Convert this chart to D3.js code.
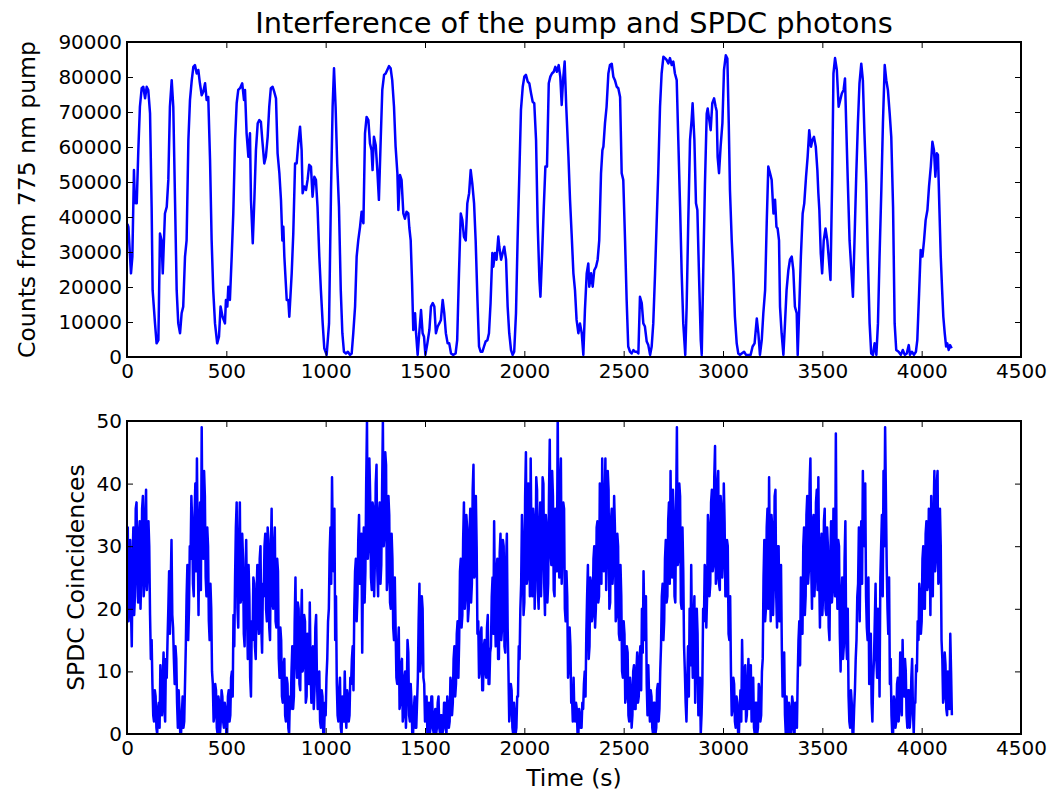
<!DOCTYPE html>
<html>
<head>
<meta charset="utf-8">
<script src="https://cdn.jsdelivr.net/npm/d3@7"></script>
<style>
  body { margin: 0; background: #fff; }
  text { font-family: "DejaVu Sans", sans-serif; }
</style>
</head>
<body>
<script>
//Pump counts (top panel): time in seconds and counts
var pumpTimes = [2,7,20,27,35,40,49,57,65,74,82,91,99,107,116,124,129,141,149,158,166,174,180,191,200,208,216,225,233,242,250,258,267,275,283,292,300,309,317,326,334,342,351,359,367,376,384,393,401,409,418,426,434,443,454,463,471,481,493,498,505,510,518,527,535,544,552,560,569,580,589,594,602,611,619,624,633,641,649,658,666,674,681,691,699,708,716,724,733,741,750,758,767,775,782,787,792,804,812,817,829,837,846,854,862,871,879,884,892,901,909,917,926,934,943,951,959,968,976,985,993,1005,1017,1027,1035,1042,1050,1058,1067,1076,1084,1092,1102,1112,1122,1131,1139,1148,1156,1164,1173,1181,1190,1198,1206,1215,1223,1231,1236,1243,1252,1260,1268,1277,1285,1294,1302,1310,1319,1327,1335,1344,1352,1361,1366,1374,1382,1391,1399,1407,1416,1421,1428,1435,1441,1450,1455,1463,1471,1480,1488,1495,1502,1512,1522,1530,1539,1547,1555,1564,1572,1580,1589,1597,1605,1614,1622,1631,1642,1654,1662,1671,1680,1688,1696,1705,1713,1722,1730,1738,1747,1755,1764,1772,1780,1789,1797,1805,1814,1822,1830,1839,1844,1852,1860,1869,1874,1883,1891,1899,1908,1916,1924,1933,1941,1949,1958,1966,1975,1983,1992,2000,2008,2017,2025,2034,2042,2050,2059,2067,2076,2081,2089,2098,2106,2114,2123,2131,2139,2148,2156,2164,2173,2181,2188,2195,2203,2211,2222,2230,2238,2247,2255,2263,2272,2280,2289,2297,2305,2314,2322,2327,2336,2344,2352,2361,2369,2377,2386,2393,2398,2406,2414,2423,2431,2440,2448,2456,2465,2473,2482,2490,2498,2507,2515,2523,2532,2540,2549,2557,2566,2574,2582,2591,2599,2607,2616,2624,2633,2641,2649,2658,2666,2674,2683,2691,2700,2708,2716,2725,2733,2742,2750,2758,2767,2775,2784,2792,2800,2810,2817,2825,2834,2842,2847,2856,2864,2871,2879,2888,2893,2901,2909,2918,2923,2931,2938,2946,2955,2963,2968,2973,2980,2988,2997,3005,3014,3022,3029,3035,3044,3052,3060,3069,3077,3086,3094,3106,3116,3128,3139,3149,3159,3170,3178,3186,3195,3203,3212,3220,3228,3237,3245,3254,3262,3269,3275,3282,3287,3295,3304,3312,3320,3329,3337,3346,3354,3362,3371,3376,3384,3392,3401,3409,3418,3426,3434,3443,3450,3458,3467,3475,3480,3485,3492,3499,3507,3516,3525,3533,3541,3550,3556,3564,3573,3582,3590,3598,3607,3614,3620,3628,3637,3645,3654,3662,3671,3679,3687,3696,3704,3712,3721,3729,3738,3746,3755,3763,3772,3780,3788,3797,3805,3814,3822,3830,3839,3847,3856,3864,3872,3884,3895,3905,3915,3925,3935,3941,3951,3961,3971,3978,3987,3995,4004,4012,4020,4029,4037,4046,4054,4062,4069,4076,4082,4089,4096,4103,4109,4116,4123,4129,4136,4143,4151];
var pumpCounts = [38000,37200,23900,28700,53400,44000,43900,59100,71500,76800,77200,73900,77200,76300,69600,42900,19100,9600,3900,4800,35300,33300,23900,41000,42900,50600,71500,79100,71500,43900,19100,9600,6800,12500,14400,28700,33300,62000,73400,79100,82900,83400,81000,82000,78200,74800,75800,78200,73400,74300,56300,33400,19100,9600,3900,5800,14400,11500,9600,16300,14400,20100,16300,28700,41000,62000,72500,76300,76800,78200,73400,76300,63900,57200,63900,44900,32500,44900,59100,66800,67700,67200,62000,55300,57200,62900,71500,76800,77200,75800,73900,58200,52500,44900,33300,37200,28700,16300,16300,11500,23900,35300,55300,55300,61000,65800,59100,46800,48700,47700,50600,54900,54400,45800,51500,50600,42900,28700,19100,9600,2500,600,9600,47700,71500,82500,71500,55300,42900,19100,6800,1500,1000,1500,600,1000,6800,14400,28700,33300,37200,41500,38200,63900,68600,67700,61000,59100,53400,62900,60500,53400,44900,62000,76300,80600,81000,82000,83100,82500,79100,71500,60100,52500,42000,52000,50600,41000,39500,41500,41000,37000,33300,21000,7700,12500,6800,600,6800,13400,6800,5800,600,3900,7700,14400,15400,14400,6800,8700,9600,10600,16300,12500,6800,3900,3900,1000,600,1000,4800,23900,41000,39100,34400,33300,43900,46800,53400,49600,43900,33300,16300,3000,1500,1500,3000,4400,4800,6800,15400,29700,25800,29700,27800,34400,31500,27800,29700,31500,27800,14400,6800,2000,600,1500,12500,33300,52500,70600,77200,80100,80600,78700,78200,75300,72900,72500,62000,38200,22000,17200,28700,42900,54400,54400,78200,80100,81000,81500,82900,81500,83400,80100,72000,79100,84400,71500,57200,44900,35300,23900,19100,10600,6800,9600,6800,600,13400,23900,26700,20100,23900,20100,24800,25800,27800,33300,52500,59100,60100,66800,71500,81000,83400,83800,80100,79100,77200,76800,74300,52500,50600,33300,16300,3000,1500,1000,2000,1500,1500,1000,17200,15400,9600,8700,4400,3400,600,3000,9600,23900,38200,52500,71500,81000,85800,85400,84900,83900,85400,83400,84400,81000,79100,62000,42900,23900,9600,600,14400,38200,62000,67700,72500,62000,43900,42000,23900,4800,600,26000,49000,69500,71000,67700,64800,72500,73900,71500,70300,57200,52500,60100,66800,82000,86200,85300,66800,47700,33300,23900,11500,3900,1000,600,1000,1500,600,600,600,3000,3900,11000,6800,600,4800,12500,19100,38200,54400,52500,50600,41000,44900,37200,36700,33300,14400,6800,600,9600,19100,24800,27800,28700,24800,14400,12500,600,14400,28700,41000,43900,51500,57200,64800,60100,62000,62900,60100,53400,46800,42000,29700,23900,33300,36700,33300,27800,22000,52500,81000,85400,82000,71500,73400,75300,76300,79600,66800,50600,33300,25800,17200,33300,52500,66800,78200,83800,79100,63900,49600,28700,9600,1000,600,3900,600,9600,28700,47700,66800,83400,79100,76300,69600,62900,42900,9600,2000,1500,600,2000,600,1000,3400,600,1500,600,1500,4800,18100,30600,28700,33300,39100,42000,48700,54400,61500,59100,51500,58200,57700,42900,28700,19100,11500,6800,3000,3900,2000,3400,2500];

//SPDC coincidences (bottom panel): one reading every 4 s starting at t = 0
var coincStep = 4;
var coincCounts = [
  27,33,18,24,31,20,14,28,33,19,22,36,37,25,21,32,34,20,25,36,38,22,24,35,39,23,26,34,30,19,12,15,8,3,2,7,6,1,0,4,
  5,1,11,6,3,9,13,4,2,12,9,15,20,26,16,24,31,19,17,12,8,14,12,5,1,7,4,0,0,3,6,1,2,8,14,22,27,15,20,30,
  28,38,34,24,22,35,40,26,44,30,19,33,37,23,49,31,28,42,38,25,22,33,30,18,15,24,20,10,8,2,3,8,7,1,0,6,5,0,2,7,
  6,2,1,5,4,0,0,6,7,2,3,9,10,6,19,14,25,33,37,20,17,30,37,21,22,32,28,16,14,25,31,20,12,27,22,9,6,18,15,25,
  24,14,12,22,27,18,16,28,30,17,13,24,22,30,32,20,18,33,31,17,15,29,36,21,20,30,33,18,17,28,26,12,9,17,15,6,5,11,12,3,
  2,9,8,1,0,6,4,10,14,4,6,18,25,12,9,21,20,8,7,17,23,10,11,19,18,5,6,16,15,8,21,11,5,13,14,4,7,17,19,9,
  4,8,10,2,1,7,6,0,0,5,3,9,12,18,20,29,33,24,41,30,26,36,15,22,8,3,2,7,9,1,0,6,5,2,10,4,1,7,6,2,
  3,9,8,12,14,7,20,26,28,18,22,31,35,24,24,32,13,27,33,21,26,40,50,28,30,44,38,25,23,37,36,22,28,40,43,26,22,35,37,24,
  27,39,50,30,32,45,43,23,25,38,35,21,20,32,28,17,15,25,17,9,8,14,17,4,5,11,12,2,3,9,10,1,6,15,13,3,2,8,5,0,
  0,4,6,1,1,5,9,18,24,10,12,22,20,9,8,2,3,6,0,4,5,0,1,6,6,1,0,3,4,0,1,5,6,1,0,3,3,0,1,5,
  5,1,0,6,4,1,2,9,8,3,5,12,14,6,8,16,18,9,15,26,28,17,19,31,37,20,22,35,33,18,20,32,36,21,24,39,43,25,26,38,
  30,16,18,9,10,16,17,7,7,14,15,10,9,17,19,8,8,13,14,22,25,16,34,20,14,26,28,12,12,29,32,15,17,31,30,14,13,27,32,17,
  10,2,4,8,7,1,0,5,3,0,1,6,6,14,12,20,24,35,30,19,21,38,45,24,25,40,36,22,44,30,22,36,34,20,26,41,39,23,20,33,
  37,22,28,41,40,24,19,35,33,21,24,38,47,29,27,42,38,23,22,36,35,26,51,30,25,40,44,24,30,37,36,20,18,26,22,9,11,17,14,5,
  6,2,9,3,2,5,4,0,0,4,3,1,1,5,4,8,10,6,16,22,27,12,14,25,24,18,19,28,30,17,20,33,34,21,22,40,38,24,44,29,
  26,37,44,23,30,42,39,20,21,34,36,24,27,38,33,18,19,32,30,16,15,27,22,10,9,18,16,5,6,14,13,3,2,9,7,1,3,10,11,4,
  4,10,13,5,6,12,14,7,20,13,26,18,15,22,8,3,11,6,2,7,6,1,0,5,5,0,1,7,8,2,4,10,14,22,24,15,18,28,31,21,
  22,34,37,24,42,28,25,39,35,22,21,36,49,27,28,40,38,21,20,33,26,14,10,5,2,8,14,6,20,11,27,15,9,18,22,5,12,20,16,3,
  4,9,0,3,8,20,18,27,26,17,22,35,33,22,24,37,39,26,27,41,46,24,25,40,42,24,23,38,36,25,28,40,34,22,22,31,30,16,15,22,
  10,3,4,9,8,2,1,6,5,0,0,4,7,2,15,8,4,10,11,2,3,8,12,4,6,11,2,6,9,1,0,5,5,0,1,8,7,2,3,10,
  12,25,31,18,20,33,36,20,41,27,18,35,33,19,24,38,39,22,17,30,30,18,21,27,14,6,8,13,3,0,6,2,0,5,4,0,1,6,5,0,
  0,5,3,1,9,15,18,11,25,20,16,30,33,19,22,35,38,24,26,40,44,27,20,34,35,22,25,37,39,23,41,26,17,29,32,19,22,34,36,20,
  19,33,30,17,15,28,34,21,23,36,35,22,48,27,20,31,30,16,10,22,25,12,14,28,34,15,12,20,6,2,1,7,5,0,0,4,7,12,15,22,
  24,33,18,29,34,24,42,31,30,40,22,17,15,25,8,13,16,5,2,9,12,18,24,12,9,20,18,6,25,30,35,22,42,30,49,38,27,20,16,25,
  8,12,3,0,0,6,5,1,2,8,9,2,4,13,11,3,15,8,6,12,10,3,1,7,7,1,3,9,12,4,0,5,5,11,10,18,15,24,22,16,
  18,28,30,20,20,32,34,23,24,36,31,19,38,27,22,35,42,26,28,40,42,24,25,36,30,15,12,5,6,13,11,4,3,10,9,4,16,10,3
];

//Axis ticks
var xTicks = [0,500,1000,1500,2000,2500,3000,3500,4000,4500];
var pumpTicks = [0,10000,20000,30000,40000,50000,60000,70000,80000,90000];
var coincTicks = [0,10,20,30,40,50];

//Figure and axes dimensions (pixels)
var width = 1057, height = 796;
var axLeft = 127, axRight = 1021;
var topPanel = {top: 42, bottom: 357};
var botPanel = {top: 421, bottom: 734};
var tickLen = 6, fontSize = 20, labelSize = 23.5;

const svg = d3.select("body")
    .append("svg")
    .attr("width", width)
    .attr("height", height);

//Shared x scale
var x = d3.scaleLinear()
    .domain([0, 4500])
    .range([axLeft, axRight]);

//Draw one panel: data line, frame, inward ticks on all four sides
function drawPanel(panel, y, yTicks, points, id) {
    const g = svg.append("g");

    //Clip the line to the axes box
    svg.append("clipPath")
        .attr("id", id)
        .append("rect")
        .attr("x", axLeft)
        .attr("y", panel.top)
        .attr("width", axRight - axLeft)
        .attr("height", panel.bottom - panel.top);

    const line = d3.line()
        .x(d => x(d[0]))
        .y(d => y(d[1]));

    g.append("path")
        .datum(points)
        .attr("clip-path", `url(#${id})`)
        .attr("fill", "none")
        .attr("stroke", "#0000ff")
        .attr("stroke-width", 2.5)
        .attr("stroke-linejoin", "round")
        .attr("d", line);

    //Bottom axis
    g.append("g")
        .attr("transform", `translate(0,${panel.bottom})`)
        .call(d3.axisBottom(x).tickValues(xTicks).tickSize(-tickLen).tickPadding(7).tickFormat(d => d))
        .call(s => s.select(".domain").remove());

    //Top axis (ticks only)
    g.append("g")
        .attr("transform", `translate(0,${panel.top})`)
        .call(d3.axisTop(x).tickValues(xTicks).tickSize(-tickLen).tickFormat(""))
        .call(s => s.select(".domain").remove());

    //Left axis
    g.append("g")
        .attr("transform", `translate(${axLeft},0)`)
        .call(d3.axisLeft(y).tickValues(yTicks).tickSize(-tickLen).tickPadding(5).tickFormat(d => d))
        .call(s => s.select(".domain").remove());

    //Right axis (ticks only)
    g.append("g")
        .attr("transform", `translate(${axRight},0)`)
        .call(d3.axisRight(y).tickValues(yTicks).tickSize(-tickLen).tickFormat(""))
        .call(s => s.select(".domain").remove());

    g.selectAll(".tick line").attr("stroke", "#000").attr("stroke-width", 1);
    g.selectAll(".tick text")
        .attr("fill", "#000")
        .style("font-size", fontSize + "px")
        .style("font-family", "DejaVu Sans");

    //Frame
    g.append("rect")
        .attr("x", axLeft)
        .attr("y", panel.top)
        .attr("width", axRight - axLeft)
        .attr("height", panel.bottom - panel.top)
        .attr("fill", "none")
        .attr("stroke", "#000")
        .attr("stroke-width", 2);
    return g;
}

//Top panel
var pumpPoints = pumpTimes.map((t, i) => [t, pumpCounts[i]]);
var yPump = d3.scaleLinear()
    .domain([0, 90000])
    .range([topPanel.bottom, topPanel.top]);
drawPanel(topPanel, yPump, pumpTicks, pumpPoints, "clipTop");

//Bottom panel
var coincPoints = coincCounts.map((c, i) => [i * coincStep, c]);
var yCoinc = d3.scaleLinear()
    .domain([0, 50])
    .range([botPanel.bottom, botPanel.top]);
drawPanel(botPanel, yCoinc, coincTicks, coincPoints, "clipBot");

//Title and axis labels
svg.append("text")
    .attr("x", (axLeft + axRight) / 2)
    .attr("y", 33)
    .attr("text-anchor", "middle")
    .style("font-size", "28.8px")
    .text("Interference of the pump and SPDC photons");

svg.append("text")
    .attr("transform", `translate(35,${(topPanel.top + topPanel.bottom) / 2}) rotate(-90)`)
    .attr("text-anchor", "middle")
    .style("font-size", labelSize + "px")
    .text("Counts from 775 nm pump");

svg.append("text")
    .attr("transform", `translate(84,${(botPanel.top + botPanel.bottom) / 2}) rotate(-90)`)
    .attr("text-anchor", "middle")
    .style("font-size", labelSize + "px")
    .text("SPDC Coincidences");

svg.append("text")
    .attr("x", (axLeft + axRight) / 2)
    .attr("y", 786)
    .attr("text-anchor", "middle")
    .style("font-size", labelSize + "px")
    .text("Time (s)");
</script>
</body>
</html>
